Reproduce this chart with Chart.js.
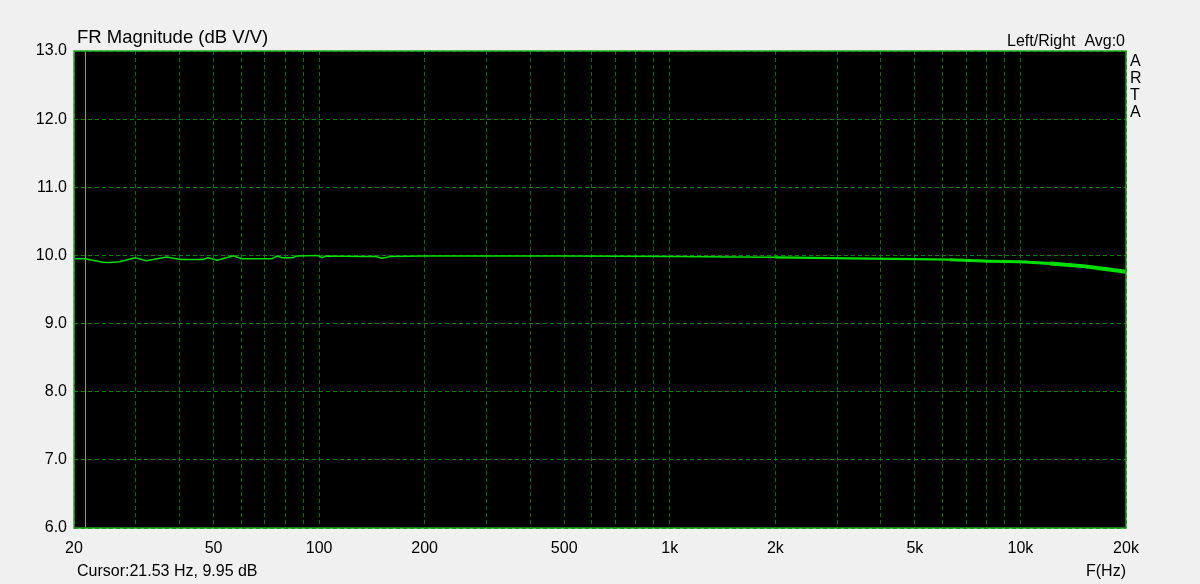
<!DOCTYPE html>
<html>
<head>
<meta charset="utf-8">
<script src="https://cdn.jsdelivr.net/npm/chart.js@4"></script>
<style>
  html, body { margin: 0; padding: 0; background: #f0f0f0; }
  #wrap { position: relative; width: 1200px; height: 584px; }
  canvas { display: block; }
</style>
</head>
<body>
<div id="wrap"><canvas id="fr" width="1200" height="584"></canvas></div>
<script>
// frequency (Hz) and magnitude (dB V/V)
const freqs = [20, 21.5, 24.2, 25.3, 27, 29.9, 32.2, 36.8, 40.2, 46.7, 48.2, 51.2, 57, 60.1, 73.3, 75.9, 78.5, 84.2, 86.2, 98.9, 102, 104.7, 131, 145, 151, 160, 200, 300, 500, 1000, 2000, 3264, 5000, 6294, 8186, 10000, 12139, 15100, 17220, 20000];
const magDb = [9.95, 9.95, 9.90, 9.897, 9.907, 9.966, 9.922, 9.975, 9.94, 9.94, 9.966, 9.93, 9.995, 9.952, 9.952, 9.99, 9.966, 9.966, 9.99, 10.0, 9.966, 9.99, 9.985, 9.985, 9.96, 9.985, 9.99, 9.993, 9.993, 9.985, 9.972, 9.956, 9.945, 9.937, 9.916, 9.907, 9.88, 9.843, 9.805, 9.76];

const xTicks = [20, 30, 40, 50, 60, 70, 80, 90, 100, 200, 300, 400, 500, 600, 700, 800, 900,
  1000, 2000, 3000, 4000, 5000, 6000, 7000, 8000, 9000, 10000, 20000];
const xLabels = { 20: '20', 50: '50', 100: '100', 200: '200', 500: '500', 1000: '1k', 2000: '2k', 5000: '5k', 10000: '10k', 20000: '20k' };
const cursorHz = 21.53;
const cursorDb = 9.95;

const fam = 'Arial, "Liberation Sans", sans-serif';
const font = { family: fam, size: 16 };

const frame = {
  id: 'frame',
  beforeDraw(chart) {
    const { ctx, chartArea: a } = chart;
    ctx.save();
    ctx.fillStyle = '#000';
    ctx.fillRect(a.left, a.top, a.right - a.left, a.bottom - a.top);
    ctx.restore();
  },
  beforeDatasetsDraw(chart) {
    const { ctx, chartArea: a, scales } = chart;
    const x = Math.round(scales.x.getPixelForValue(cursorHz)) + 0.5;
    ctx.save();
    ctx.strokeStyle = '#a0a000';
    ctx.lineWidth = 1;
    ctx.beginPath();
    ctx.moveTo(x, a.top);
    ctx.lineTo(x, a.bottom);
    ctx.stroke();
    ctx.restore();
  },
  afterDraw(chart) {
    const { ctx, chartArea: a } = chart;
    ctx.save();
    ctx.strokeStyle = '#1ca81c';
    ctx.lineWidth = 1.5;
    ctx.strokeRect(a.left, a.top, a.right - a.left, a.bottom - a.top);

    ctx.fillStyle = '#000';
    ctx.textBaseline = 'alphabetic';
    ctx.textAlign = 'left';
    ctx.font = '18.5px ' + fam;
    ctx.fillText('FR Magnitude (dB V/V)', 77, 43);
    ctx.font = '16px ' + fam;
    ctx.textAlign = 'right';
    ctx.fillText('Left/Right  Avg:0', 1125, 46);
    ctx.textAlign = 'left';
    ['A', 'R', 'T', 'A'].forEach((c, i) => ctx.fillText(c, 1130, 66 + i * 17));
    ctx.fillText('Cursor:' + cursorHz + ' Hz, ' + cursorDb.toFixed(2) + ' dB', 77, 576);
    ctx.textAlign = 'right';
    ctx.fillText('F(Hz)', 1126, 576);
    ctx.restore();
  }
};

new Chart(document.getElementById('fr'), {
  type: 'line',
  data: {
    datasets: [{
      data: freqs.map((f, i) => ({ x: f, y: magDb[i] })),
      borderColor: '#00e000',
      borderWidth: 1.5,
      pointRadius: 0,
      tension: 0,
      segment: {
        borderWidth: c => {
          const f = c.p0.parsed.x;
          if (f >= 12000) return 4;
          if (f >= 6000) return 3;
          if (f >= 2000) return 2.2;
          return 1.5;
        }
      }
    }]
  },
  options: {
    responsive: false,
    animation: false,
    layout: { padding: { left: 0, right: 74, top: 51, bottom: 0 } },
    plugins: { legend: { display: false }, tooltip: { enabled: false } },
    scales: {
      x: {
        type: 'logarithmic',
        min: 20,
        max: 20000,
        afterBuildTicks: s => { s.ticks = xTicks.map(v => ({ value: v })); },
        afterFit: s => { s.height = 56; },
        ticks: {
          autoSkip: false,
          maxRotation: 0,
          color: '#000',
          font: font,
          padding: 11,
          callback: v => xLabels[v] || ''
        },
        grid: { color: '#007800', lineWidth: 1, drawTicks: false, tickLength: 0 },
        border: { display: false, dash: [4, 3] }
      },
      y: {
        min: 6,
        max: 13,
        afterFit: s => { s.width = 74; },
        ticks: {
          stepSize: 1,
          color: '#000',
          font: font,
          padding: 7,
          callback: v => v.toFixed(1)
        },
        grid: { color: '#008800', lineWidth: 1, drawTicks: false, tickLength: 0 },
        border: { display: false, dash: [4, 3] }
      }
    }
  },
  plugins: [frame]
});
</script>
</body>
</html>
